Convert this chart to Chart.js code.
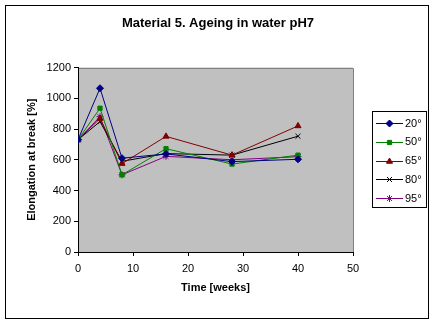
<!DOCTYPE html>
<html>
<head>
<meta charset="utf-8">
<script src="https://cdn.jsdelivr.net/npm/chart.js@4/dist/chart.umd.min.js"></script>
<style>
  html,body{margin:0;padding:0;background:#fff}
  #wrap{width:436px;height:325px;position:relative}
</style>
</head>
<body>
<div id="wrap"><canvas id="c" width="436" height="325"></canvas></div>
<script>
// ===== datos =====
const weeks=[0,4,8,16,28,40];
const labels=['20°','50°','65°','80°','95°'];
const s20=[730,1065,610,638,588,603];
const s50=[730,935,502,672,572,630];
const s65=[730,868,575,752,630,820];
const s80=[730,848,590,640,630,753];
const s95=[730,880,502,622,600,620];
const yTicks=[0,200,400,600,800,1000,1200];
const xTicks=[0,10,20,30,40,50];
const titulo='Material 5. Ageing in water pH7';

const series=[s20,s50,s65,s80,s95];
const colors=['#000080','#008000','#800000','#000000','#800080'];
const styles=['rectRot','rect','triangle','crossRot','star'];
const radii=[3.5,3,3.5,3.5,3.5];

const FONT='"Liberation Sans", Arial, sans-serif';

// fondo gris del área, marco exterior, título y leyenda
const frame={
  id:'frame',
  beforeDraw(ch){
    const {ctx,chartArea:a}=ch;
    ctx.save();
    ctx.fillStyle='#fff';ctx.fillRect(0,0,ch.width,ch.height);
    ctx.strokeStyle='#000';ctx.lineWidth=1;
    ctx.strokeRect(5.5,5.5,423,313);
    ctx.fillStyle='#c0c0c0';
    ctx.fillRect(a.left,a.top,a.right-a.left,a.bottom-a.top);
    ctx.strokeStyle='#808080';
    ctx.beginPath();
    ctx.moveTo(a.left,Math.round(a.top)+0.5);ctx.lineTo(Math.round(a.right)+0.5,Math.round(a.top)+0.5);
    ctx.lineTo(Math.round(a.right)+0.5,a.bottom);
    ctx.stroke();
    ctx.fillStyle='#000';ctx.font='bold 13px '+FONT;ctx.textAlign='center';ctx.textBaseline='middle';
    ctx.fillText(titulo,218,23);
    ctx.restore();
  },
  afterDraw(ch){
    const ctx=ch.ctx;
    ctx.save();
    ctx.fillStyle='#fff';ctx.fillRect(372,111,54,96);
    ctx.strokeStyle='#000';ctx.lineWidth=1;
    ctx.strokeRect(372.5,111.5,54,96);
    ch.data.datasets.forEach((d,i)=>{
      const y=123+i*18.8;
      ctx.strokeStyle=d.borderColor;ctx.lineWidth=1;
      ctx.beginPath();ctx.moveTo(376,Math.round(y)+0.5);ctx.lineTo(403,Math.round(y)+0.5);ctx.stroke();
      ctx.fillStyle=d.borderColor;ctx.strokeStyle=d.borderColor;
      Chart.helpers.drawPoint(ctx,{pointStyle:d.pointStyle,radius:d.pointRadius,rotation:0,borderWidth:1},389.5,Math.round(y)+0.5);
      ctx.fillStyle='#000';ctx.font='11px '+FONT;ctx.textBaseline='middle';ctx.textAlign='left';
      ctx.fillText(d.label,405,y+0.5);
    });
    ctx.restore();
  }
};

const datasets=series.map((s,i)=>({
  label:labels[i],
  data:weeks.map((w,j)=>({x:w,y:s[j]})),
  borderColor:colors[i],
  backgroundColor:colors[i],
  pointBackgroundColor:colors[i],
  pointBorderColor:colors[i],
  pointStyle:styles[i],
  pointRadius:radii[i],
  pointBorderWidth:1,
  borderWidth:1,
  tension:0
}));

new Chart(document.getElementById('c'),{
  type:'line',
  data:{datasets},
  plugins:[frame],
  options:{
    responsive:false,animation:false,
    layout:{padding:{left:25,right:83,top:67.5,bottom:30}},
    plugins:{legend:{display:false},tooltip:{enabled:false},title:{display:false}},
    scales:{
      x:{type:'linear',min:0,max:50,
        afterBuildTicks:s=>{s.ticks=xTicks.map(v=>({value:v}));},
        afterFit:s=>{s.height=43;},
        grid:{drawOnChartArea:false,drawTicks:true,tickLength:4,color:'#000'},
        border:{color:'#000',width:1},
        ticks:{color:'#000',font:{family:FONT,size:11},padding:6,maxRotation:0,callback:v=>String(v)},
        title:{display:true,text:'Time [weeks]',color:'#000',font:{family:FONT,size:11,weight:'bold'},padding:0}
      },
      y:{min:0,max:1200,
        afterBuildTicks:s=>{s.ticks=yTicks.map(v=>({value:v}));},
        afterFit:s=>{s.width=53;},
        grid:{drawOnChartArea:false,drawTicks:true,tickLength:4,color:'#000'},
        border:{color:'#000',width:1},
        ticks:{color:'#000',font:{family:FONT,size:11},padding:3,callback:v=>String(v)},
        title:{display:true,text:'Elongation at break [%]',color:'#000',font:{family:FONT,size:11,weight:'bold'},padding:0}
      }
    }
  }
});
</script>
</body>
</html>
